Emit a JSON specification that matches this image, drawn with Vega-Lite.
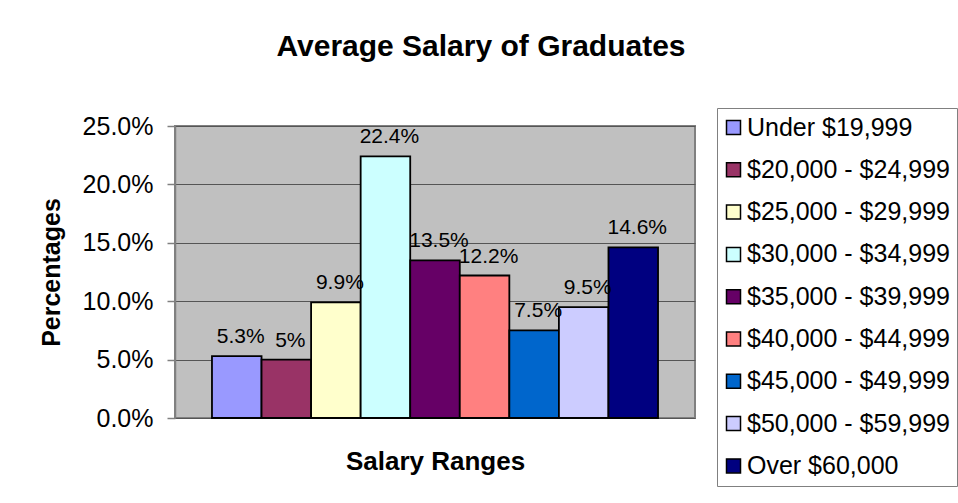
{
  "$schema": "https://vega.github.io/schema/vega-lite/v6.json",
  "width": 520,
  "height": 292,
  "autosize": {"type": "none"},
  "padding": {"left": 175, "top": 126, "right": 263, "bottom": 85},
  "background": "white",
  "title": {
    "text": "Average Salary of Graduates",
    "font": "Liberation Sans",
    "fontSize": 30,
    "fontWeight": "bold",
    "color": "black",
    "anchor": "middle",
    "frame": "group",
    "dx": 46,
    "baseline": "alphabetic",
    "offset": 22
  },
  "data": {
    "values": [
      {"range": "Under $19,999", "pct": 0.053},
      {"range": "$20,000 - $24,999", "pct": 0.05},
      {"range": "$25,000 - $29,999", "pct": 0.099},
      {"range": "$30,000 - $34,999", "pct": 0.224},
      {"range": "$35,000 - $39,999", "pct": 0.135},
      {"range": "$40,000 - $44,999", "pct": 0.122},
      {"range": "$45,000 - $49,999", "pct": 0.075},
      {"range": "$50,000 - $59,999", "pct": 0.095},
      {"range": "Over $60,000", "pct": 0.146}
    ]
  },
  "encoding": {
    "x": {
      "field": "range",
      "type": "nominal",
      "sort": null,
      "scale": {"paddingInner": 0, "paddingOuter": 0.746},
      "axis": {
        "labels": false,
        "ticks": false,
        "domain": false,
        "grid": false,
        "title": "Salary Ranges",
        "titleFont": "Liberation Sans",
        "titleFontSize": 26,
        "titleFontWeight": "bold",
        "titleColor": "black",
        "titlePadding": 30
      }
    },
    "y": {
      "field": "pct",
      "type": "quantitative",
      "scale": {"domain": [0, 0.25], "nice": false},
      "axis": {
        "values": [0, 0.05, 0.1, 0.15, 0.2, 0.25],
        "format": ".1%",
        "grid": true,
        "gridColor": "#555555",
        "gridWidth": 1,
        "domainColor": "#808080",
        "domainWidth": 1.5,
        "tickColor": "#808080",
        "tickSize": 8,
        "tickWidth": 1.5,
        "labelFont": "Liberation Sans",
        "labelFontSize": 25,
        "labelColor": "black",
        "labelPadding": 14,
        "title": "Percentages",
        "titleFont": "Liberation Sans",
        "titleFontSize": 25,
        "titleFontWeight": "bold",
        "titleColor": "black",
        "titlePadding": 18
      }
    }
  },
  "layer": [
    {
      "mark": {"type": "bar", "stroke": "black", "strokeWidth": 1.8},
      "encoding": {
        "color": {
          "field": "range",
          "type": "nominal",
          "sort": null,
          "scale": {
            "domain": ["Under $19,999", "$20,000 - $24,999", "$25,000 - $29,999", "$30,000 - $34,999", "$35,000 - $39,999", "$40,000 - $44,999", "$45,000 - $49,999", "$50,000 - $59,999", "Over $60,000"],
            "range": ["#9999FF", "#993366", "#FFFFCC", "#CCFFFF", "#660066", "#FF8080", "#0066CC", "#CCCCFF", "#000080"]
          },
          "legend": {
            "orient": "none",
            "legendX": 542,
            "legendY": -18,
            "title": null,
            "labelFont": "Liberation Sans",
            "labelFontSize": 25,
            "labelColor": "black",
            "labelOffset": 1,
            "labelLimit": 400,
            "symbolType": "square",
            "symbolSize": 196,
            "symbolStrokeColor": "black",
            "symbolStrokeWidth": 1.5,
            "symbolOpacity": 1,
            "symbolOffset": -3,
            "rowPadding": 16.3,
            "padding": 7,
            "strokeColor": "#808080",
            "fillColor": "white"
          }
        }
      }
    },
    {
      "mark": {"type": "text", "font": "Liberation Sans", "fontSize": 21, "baseline": "alphabetic", "dy": -13, "dx": 4, "color": "black"},
      "encoding": {"text": {"field": "pct", "format": ".3~%"}}
    }
  ],
  "config": {"view": {"fill": "#C0C0C0", "stroke": "#808080", "strokeWidth": 2}}
}
